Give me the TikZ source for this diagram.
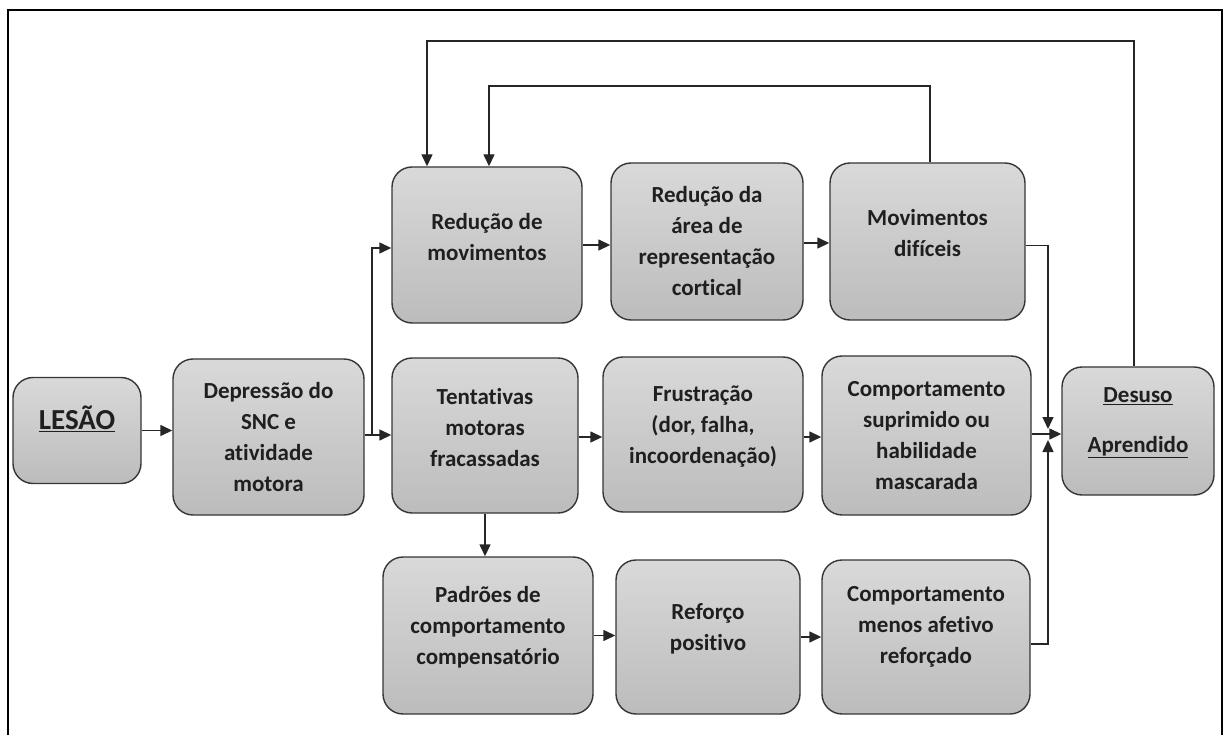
\documentclass[tikz,border=0pt]{standalone}
\usepackage{fontspec}
\setmainfont{Carlito}[Ligatures=NoCommon]
\usetikzlibrary{arrows.meta}
\definecolor{boxtop}{HTML}{D9D9D9}
\definecolor{boxbot}{HTML}{BCBCBC}
\definecolor{boxline}{HTML}{363636}
\begin{document}
\begin{tikzpicture}[x=1pt,y=-1pt]
	\tikzstyle{box}=[draw=boxline, line width=1.4pt, rounded corners=20pt, top color=boxtop, bottom color=boxbot, inner sep=0pt]
	\tikzstyle{txt}=[font=\fontsize{23}{31}\selectfont\bfseries, text=black!88, align=center, inner sep=0pt, yshift=8pt]
	\tikzstyle{arr}=[draw=black!85, line width=1.4pt, -{Triangle[length=12pt,width=11pt]}]
	\useasboundingbox (0,0) rectangle (1224,735);
	\draw [line width=2.6pt] (8,735) -- (8,10) -- (1222,10) -- (1222,735);
	\node [box, minimum width=128, minimum height=106, label={[txt, font=\fontsize{29}{35}\selectfont\bfseries, yshift=4pt]center:{\underline{LESÃO}}}] (les) at (77,430.5) {};
	\node [box, minimum width=191, minimum height=156, label={[txt, yshift=-8pt]center:{Depressão do\\SNC e\\atividade\\motora}}] (dep) at (268.5,437) {};
	\node [box, minimum width=190, minimum height=156, label={[txt]center:{Redução de\\movimentos}}] (rmov) at (487,245) {};
	\node [box, minimum width=192, minimum height=157, label={[txt, yshift=-8pt]center:{Redução da\\área de\\representação\\cortical}}] (rarea) at (707,241.5) {};
	\node [box, minimum width=195, minimum height=157, label={[txt]center:{Movimentos\\difíceis}}] (movd) at (927.5,241.5) {};
	\node [box, minimum width=186, minimum height=155, label={[txt]center:{Tentativas\\motoras\\fracassadas}}] (tent) at (485,435.5) {};
	\node [box, minimum width=200, minimum height=155, label={[txt]center:{Frustração\\(dor, falha,\\incoordenação)}}] (frus) at (703,434.5) {};
	\node [box, minimum width=209, minimum height=159, label={[txt, yshift=-8pt]center:{Comportamento\\suprimido ou\\habilidade\\mascarada}}] (comps) at (926.5,435.5) {};
	\node [box, minimum width=152, minimum height=128, label={[txt]center:{\underline{Desuso}\\[19pt]\underline{Aprendido}}}] (desu) at (1138,431) {};
	\node [box, minimum width=210, minimum height=157, label={[txt]center:{Padrões de\\comportamento\\compensatório}}] (padr) at (488,635.5) {};
	\node [box, minimum width=184, minimum height=154, label={[txt]center:{Reforço\\positivo}}] (refo) at (708,637) {};
	\node [box, minimum width=208, minimum height=154, label={[txt, yshift=2pt]center:{Comportamento\\menos afetivo\\reforçado}}] (compm) at (926,637) {};
	\coordinate (fork) at (372,435);
	\coordinate (mergeA) at (1048,429);
	\coordinate (mergeB) at (1048,440);
	\coordinate (loopA) at (1134,41);
	\coordinate (loopB) at (930,86);
	\draw [arr] (les.east) -- (les.east -| dep.west);
	\draw [arr] (dep.east |- fork) -- (tent.west |- fork);
	\draw [arr] (fork) |- ([yshift=-3pt]rmov.west);
	\draw [arr] (rmov.east) -- (rmov.east -| rarea.west);
	\draw [arr] ([yshift=-1.5pt]rarea.east) -- ([yshift=-1.5pt]rarea.east -| movd.west);
	\draw [arr] ([yshift=-1.5pt]tent.east) -- ([yshift=-1.5pt]tent.east -| frus.west);
	\draw [arr] ([yshift=-2.5pt]frus.east) -- ([yshift=-2.5pt]frus.east -| comps.west);
	\draw [arr] (tent.south) -- (tent.south |- padr.north);
	\draw [arr] (padr.east) -- (padr.east -| refo.west);
	\draw [arr] (refo.east) -- (refo.east -| compm.west);
	\draw [arr] ([yshift=1.5pt]comps.east) -- ([yshift=1.5pt]comps.east -| desu.west);
	\draw [arr] ([yshift=-4pt]movd.east) -| (mergeA);
	\draw [arr] ([yshift=-7pt]compm.east) -| (mergeB);
	\draw [arr] (desu.north -| loopA) -- (loopA) -| ([xshift=-60pt]rmov.north);
	\draw [arr] (movd.north -| loopB) -- (loopB) -| ([xshift=2pt]rmov.north);
\end{tikzpicture}
\end{document}
